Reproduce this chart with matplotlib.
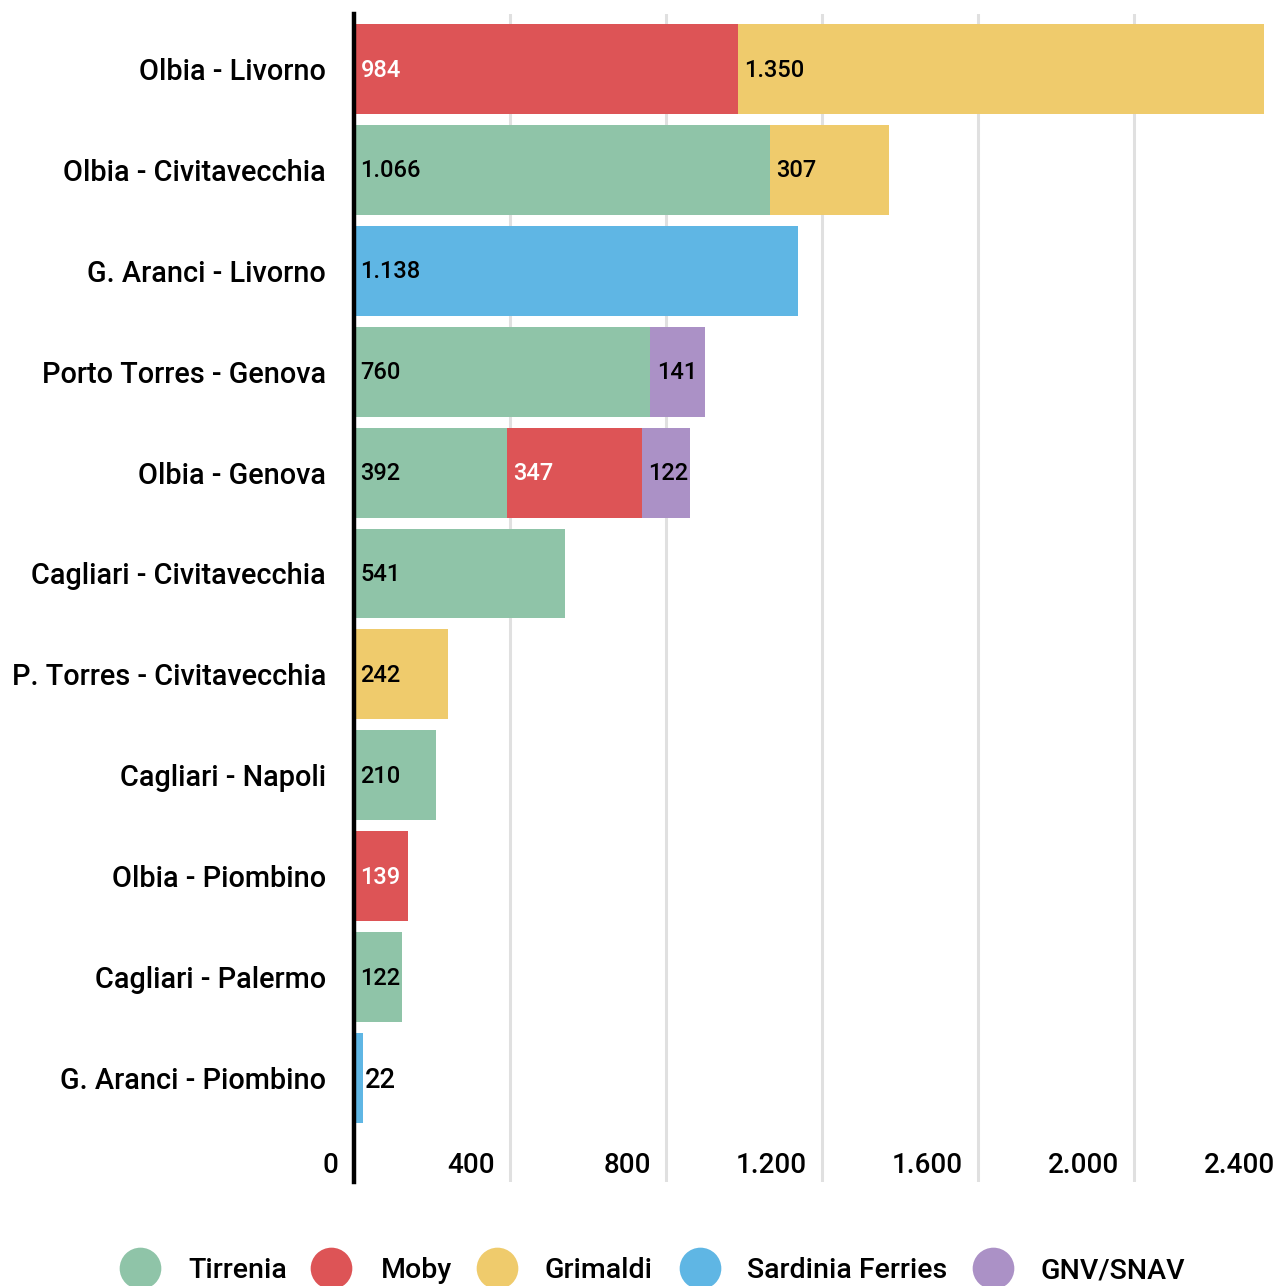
import matplotlib
matplotlib.use("Agg")
import matplotlib.pyplot as plt

plt.rcParams["font.family"] = ["Roboto", "DejaVu Sans"]

routes = ["Olbia - Livorno", "Olbia - Civitavecchia", "G. Aranci - Livorno",
          "Porto Torres - Genova", "Olbia - Genova", "Cagliari - Civitavecchia",
          "P. Torres - Civitavecchia", "Cagliari - Napoli", "Olbia - Piombino",
          "Cagliari - Palermo", "G. Aranci - Piombino"]
companies = ["Tirrenia", "Moby", "Grimaldi", "Sardinia Ferries", "GNV/SNAV"]
tirrenia = [0, 1066, 0, 760, 392, 541, 0, 210, 0, 122, 0]
moby = [984, 0, 0, 0, 347, 0, 0, 0, 139, 0, 0]
grimaldi = [1350, 307, 0, 0, 0, 0, 242, 0, 0, 0, 0]
sardinia = [0, 0, 1138, 0, 0, 0, 0, 0, 0, 0, 22]
gnv = [0, 0, 0, 141, 122, 0, 0, 0, 0, 0, 0]
x_ticks = [0, 400, 800, 1200, 1600, 2000, 2400]

colors = ["#8fc4a8", "#dd5456", "#efcb6c", "#5fb6e4", "#ab91c6"]
text_colors = ["black", "white", "black", "black", "black"]


def fmt(v):
    return f"{v:,}".replace(",", ".")


W, H = 1278, 1286
fig = plt.figure(figsize=(W / 100, H / 100), dpi=100)
x0, top, bottom = 354, 14, 1182
ax = fig.add_axes([x0 / W, 1 - bottom / H, (W - x0) / W, (bottom - top) / H])

px_per_unit = 156 / 400
ax.set_xlim(0, (W - x0) / px_per_unit)
row = 100.9
ax.set_ylim(10 + (bottom - 1078) / row, -(69 - top) / row)

series = [tirrenia, moby, grimaldi, sardinia, gnv]
ys = list(range(len(routes)))
left = [0] * len(routes)
for vals, col, tcol in zip(series, colors, text_colors):
    ax.barh(ys, vals, left=left, height=0.89, color=col, zorder=2)
    for y, v, l in zip(ys, vals, left):
        if v == 0:
            continue
        if v < 50:
            # too narrow: label goes after the bar
            ax.annotate(fmt(v), (l + v, y + 0.02), xytext=(2, 0), textcoords="offset points",
                        va="center", ha="left", fontsize=19.5, fontweight="medium",
                        color="black", zorder=3)
        else:
            ax.annotate(fmt(v), (l, y + 0.01), xytext=(4.6, 0), textcoords="offset points",
                        va="center", ha="left", fontsize=17, fontweight="medium",
                        color=tcol, zorder=3)
    left = [a + b for a, b in zip(left, vals)]

# grid lines
for t in x_ticks[1:]:
    ax.axvline(t, color="#e0e0e0", lw=2.2, zorder=1)

# x tick labels, inside the plot, left of their gridline
for t in x_ticks:
    ax.annotate(fmt(t), (t, 10.87), xytext=(-11, 0), textcoords="offset points",
                ha="right", va="center", fontsize=20, fontweight="medium",
                annotation_clip=False)
ax.set_xticks([])

ax.set_yticks(ys)
ax.set_yticklabels(routes, fontsize=20.8, fontweight="medium")
ax.tick_params(axis="y", length=0, pad=20)

for s in ["top", "right", "bottom"]:
    ax.spines[s].set_visible(False)
ax.spines["left"].set_linewidth(3.2)
ax.spines["left"].set_color("black")
ax.spines["left"].set_zorder(4)

# legend
lx = fig.add_axes([0, 0, 1, 1], facecolor="none")
lx.set_xlim(0, W)
lx.set_ylim(H, 0)
lx.axis("off")
circle_x = [140, 331, 497, 700, 993]
label_x = [188, 381, 545, 747, 1041]
for cx, tx, col, name in zip(circle_x, label_x, colors, companies):
    lx.scatter([cx], [1268], s=900, color=col, linewidths=0)
    lx.text(tx, 1271, name, fontsize=20.5, fontweight="medium", va="center", ha="left")

fig.savefig("out.png", dpi=100)
